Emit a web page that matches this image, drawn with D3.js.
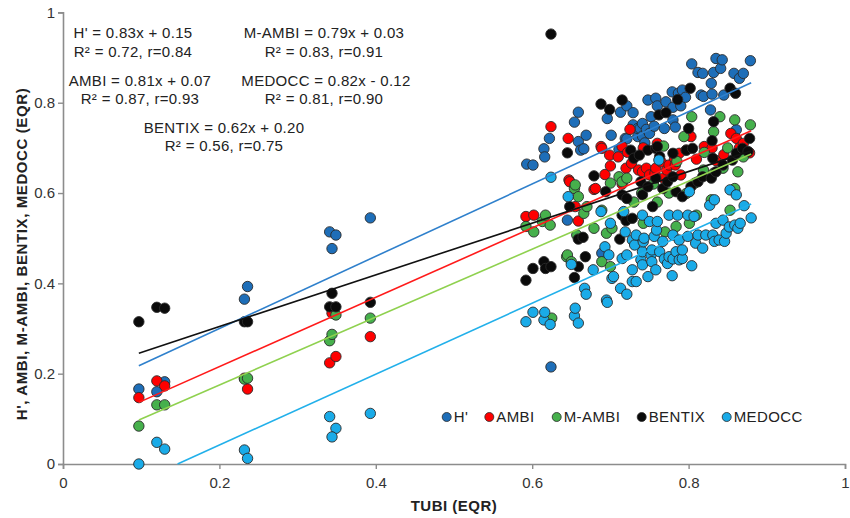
<!DOCTYPE html>
<html><head><meta charset="utf-8">
<script src="https://cdn.jsdelivr.net/npm/d3@7"></script>
<style>
body{margin:0;background:#fff;}
text{font-family:Arial,"Liberation Sans",sans-serif;}
</style></head>
<body><svg id="chart" width="850" height="518"></svg>
<script>
// ---------- DATA ----------
const seriesNames = ["H'", "AMBI", "M-AMBI", "BENTIX", "MEDOCC"];
const xTicks = [0, 0.2, 0.4, 0.6, 0.8, 1];
const yTicks = [0, 0.2, 0.4, 0.6, 0.8, 1];

const hPts = [[0.097,0.166],[0.12,0.160],[0.13,0.182],[0.232,0.365],[0.236,0.393],[0.341,0.514],[0.349,0.507],[0.344,0.477],[0.393,0.545],
[0.593,0.664],[0.601,0.662],[0.615,0.698],[0.616,0.680],[0.622,0.721],[0.624,0.215],[0.645,0.540],[0.654,0.757],[0.659,0.779],[0.659,0.714],[0.662,0.695],[0.666,0.698],[0.669,0.728],[0.689,0.467],[0.696,0.765],[0.701,0.728],[0.711,0.697],[0.713,0.779],[0.719,0.721],[0.721,0.793],[0.721,0.720],[0.729,0.778],[0.729,0.751],[0.735,0.725],[0.735,0.743],[0.738,0.743],[0.741,0.754],[0.741,0.726],[0.744,0.711],[0.746,0.741],[0.748,0.806],[0.750,0.732],[0.752,0.769],[0.756,0.748],[0.758,0.810],[0.760,0.793],[0.769,0.743],[0.771,0.802],[0.779,0.824],[0.780,0.790],[0.780,0.762],[0.783,0.746],[0.787,0.821],[0.790,0.793],[0.792,0.828],[0.796,0.812],[0.804,0.886],[0.812,0.867],[0.816,0.817],[0.818,0.865],[0.819,0.814],[0.828,0.784],[0.829,0.843],[0.830,0.819],[0.832,0.867],[0.835,0.898],[0.841,0.876],[0.843,0.895],[0.845,0.817],[0.858,0.865],[0.861,0.740],[0.865,0.854],[0.870,0.865],[0.879,0.893]];

const ambiPts = [[0.097,0.147],[0.12,0.184],[0.13,0.173],[0.232,0.19],[0.236,0.166],[0.341,0.224],[0.349,0.238],[0.344,0.334],[0.393,0.282],
[0.592,0.548],[0.602,0.551],[0.624,0.747],[0.646,0.721],[0.647,0.629],[0.648,0.625],[0.655,0.570],[0.659,0.538],[0.679,0.608],[0.681,0.610],[0.688,0.703],[0.689,0.699],[0.693,0.641],[0.699,0.684],[0.70,0.66],[0.71,0.68],[0.715,0.703],[0.715,0.62],[0.72,0.655],[0.722,0.69],[0.725,0.741],[0.727,0.666],[0.736,0.651],[0.741,0.647],[0.742,0.70],[0.746,0.655],[0.750,0.640],[0.757,0.644],[0.758,0.655],[0.76,0.71],[0.765,0.669],[0.768,0.633],[0.772,0.651],[0.775,0.662],[0.782,0.677],[0.783,0.662],[0.788,0.688],[0.79,0.64],[0.797,0.695],[0.801,0.728],[0.803,0.725],[0.81,0.675],[0.820,0.703],[0.83,0.70],[0.835,0.672],[0.845,0.685],[0.854,0.732],[0.861,0.721],[0.865,0.70],[0.87,0.71],[0.878,0.689]];

const mambiPts = [[0.097,0.084],[0.12,0.131],[0.13,0.131],[0.232,0.188],[0.236,0.19],[0.341,0.273],[0.344,0.287],[0.349,0.33],[0.393,0.323],
[0.592,0.526],[0.602,0.514],[0.613,0.537],[0.617,0.551],[0.623,0.529],[0.625,0.323],[0.644,0.459],[0.645,0.463],[0.650,0.448],[0.654,0.610],[0.655,0.618],[0.657,0.507],[0.659,0.592],[0.666,0.555],[0.670,0.570],[0.679,0.522],[0.689,0.562],[0.689,0.448],[0.695,0.511],[0.700,0.437],[0.700,0.622],[0.702,0.522],[0.711,0.636],[0.715,0.625],[0.721,0.633],[0.73,0.58],[0.740,0.60],[0.742,0.533],[0.755,0.62],[0.76,0.58],[0.768,0.704],[0.770,0.514],[0.775,0.60],[0.784,0.526],[0.785,0.67],[0.794,0.725],[0.797,0.599],[0.801,0.533],[0.804,0.769],[0.808,0.622],[0.810,0.551],[0.819,0.651],[0.82,0.69],[0.829,0.585],[0.832,0.644],[0.832,0.736],[0.840,0.769],[0.844,0.655],[0.85,0.70],[0.853,0.562],[0.859,0.610],[0.859,0.762],[0.863,0.647],[0.87,0.68],[0.879,0.751]];

const bentixPts = [[0.097,0.315],[0.12,0.347],[0.13,0.345],[0.232,0.315],[0.236,0.315],[0.341,0.348],[0.344,0.378],[0.349,0.348],[0.393,0.358],
[0.592,0.407],[0.601,0.433],[0.615,0.448],[0.617,0.433],[0.624,0.437],[0.624,0.952],[0.645,0.689],[0.648,0.570],[0.654,0.413],[0.659,0.437],[0.659,0.498],[0.665,0.502],[0.668,0.459],[0.679,0.638],[0.688,0.797],[0.694,0.603],[0.699,0.785],[0.712,0.498],[0.715,0.806],[0.715,0.551],[0.715,0.596],[0.720,0.539],[0.721,0.588],[0.728,0.544],[0.726,0.695],[0.730,0.677],[0.737,0.684],[0.739,0.625],[0.741,0.596],[0.748,0.695],[0.748,0.614],[0.754,0.570],[0.758,0.699],[0.758,0.633],[0.760,0.703],[0.762,0.773],[0.763,0.681],[0.767,0.610],[0.771,0.778],[0.773,0.625],[0.780,0.636],[0.780,0.688],[0.784,0.603],[0.786,0.807],[0.792,0.592],[0.797,0.695],[0.800,0.743],[0.802,0.832],[0.803,0.614],[0.805,0.699],[0.812,0.625],[0.818,0.636],[0.829,0.633],[0.830,0.716],[0.831,0.677],[0.832,0.758],[0.835,0.647],[0.844,0.662],[0.853,0.832],[0.856,0.673],[0.860,0.821],[0.861,0.688],[0.869,0.699],[0.876,0.692],[0.878,0.721]];

const medoccPts = [[0.097,0.0],[0.12,0.048],[0.13,0.033],[0.232,0.031],[0.236,0.0125],[0.341,0.105],[0.349,0.079],[0.344,0.06],[0.393,0.112],
[0.592,0.315],[0.601,0.336],[0.615,0.319],[0.616,0.336],[0.623,0.309],[0.624,0.635],[0.646,0.592],[0.650,0.442],[0.654,0.328],[0.655,0.345],[0.659,0.312],[0.667,0.389],[0.669,0.376],[0.678,0.430],[0.688,0.559],[0.693,0.481],[0.695,0.363],[0.696,0.358],[0.698,0.463],[0.700,0.533],[0.702,0.411],[0.704,0.415],[0.713,0.389],[0.715,0.455],[0.717,0.559],[0.719,0.514],[0.721,0.376],[0.721,0.463],[0.728,0.404],[0.728,0.430],[0.728,0.496],[0.731,0.485],[0.733,0.404],[0.733,0.507],[0.739,0.452],[0.741,0.441],[0.741,0.470],[0.741,0.551],[0.742,0.492],[0.743,0.500],[0.748,0.415],[0.750,0.537],[0.752,0.463],[0.753,0.448],[0.753,0.474],[0.756,0.504],[0.758,0.430],[0.759,0.518],[0.760,0.537],[0.762,0.673],[0.763,0.470],[0.767,0.493],[0.769,0.454],[0.773,0.444],[0.775,0.459],[0.775,0.551],[0.779,0.417],[0.780,0.454],[0.780,0.507],[0.784,0.470],[0.786,0.551],[0.788,0.452],[0.788,0.496],[0.792,0.455],[0.792,0.474],[0.799,0.504],[0.799,0.551],[0.801,0.603],[0.804,0.439],[0.807,0.548],[0.809,0.489],[0.812,0.507],[0.818,0.478],[0.822,0.507],[0.827,0.573],[0.831,0.507],[0.833,0.585],[0.833,0.493],[0.835,0.533],[0.839,0.496],[0.844,0.540],[0.846,0.493],[0.848,0.511],[0.852,0.525],[0.853,0.607],[0.859,0.529],[0.861,0.596],[0.863,0.522],[0.866,0.533],[0.871,0.572],[0.880,0.545]];

// fitted trend lines as drawn (slope, intercept) over TUBI range
const trendSlope = [0.80, 0.768, 0.752, 0.572, 0.785];
const trendIntercept = [0.140, 0.062, 0.0245, 0.190, -0.115];
const trendXRange = [0.097, 0.88];

// equation labels
const eqLines = ["H' = 0.83x + 0.15", "R² = 0.72, r=0.84", "AMBI = 0.81x + 0.07", "R² = 0.87, r=0.93",
  "M-AMBI = 0.79x + 0.03", "R² = 0.83, r=0.91", "MEDOCC = 0.82x - 0.12", "R² = 0.81, r=0.90",
  "BENTIX = 0.62x + 0.20", "R² = 0.56, r=0.75"];

// ---------- STYLE / LAYOUT ----------
const markerColors = ["#1E6EB8", "#FF0000", "#46B04C", "#0A0A0A", "#1AABE8"];
const lineColors = ["#2F80CC", "#FF1A1A", "#8FD14F", "#111111", "#22B0EA"];
const eqPos = [[133,33],[133,52],[140,81],[140,99],[324,33],[324,52],[326,81],[324,99],[224,128],[224,146]];
const legendX = [446.7, 489.3, 556.7, 641.7, 726.7];

const svg = d3.select("#chart");
const x = d3.scaleLinear().domain([0,1]).range([63,845]);
const y = d3.scaleLinear().domain([0,1]).range([464,12.4]);

// axes
const axisColor = "#8C8C8C";
const xAxis = svg.append("g").attr("transform","translate(0,464)")
  .call(d3.axisBottom(x).tickValues(xTicks).tickSizeOuter(0).tickSize(5)
    .tickFormat(d => (d===0||d===1) ? String(d) : d3.format(".1f")(d)));
const yAxis = svg.append("g").attr("transform","translate(63,0)")
  .call(d3.axisLeft(y).tickValues(yTicks).tickSizeOuter(0).tickSize(5)
    .tickFormat(d => (d===0||d===1) ? String(d) : d3.format(".1f")(d)));
[xAxis, yAxis].forEach(g => {
  g.select(".domain").attr("stroke", axisColor).attr("stroke-width", 1.6);
  g.selectAll(".tick line").attr("stroke", axisColor).attr("stroke-width", 1.4);
  g.selectAll(".tick text").attr("fill", "#333").style("font-size","15px").style("font-family","Arial, 'Liberation Sans', sans-serif");
});
xAxis.selectAll(".tick text").attr("dy","0.9em").attr("y", 10);
yAxis.selectAll(".tick text").attr("x", -8);

// axis titles
svg.append("text").attr("x", 454).attr("y", 511).attr("text-anchor","middle")
  .style("font-size","15px").style("font-weight","bold").style("letter-spacing","0.5px").attr("fill","#222").text("TUBI (EQR)");
svg.append("text").attr("transform","translate(27,254) rotate(-90)").attr("text-anchor","middle")
  .style("font-size","15px").style("font-weight","bold").style("letter-spacing","0.6px").attr("fill","#222")
  .text("H', AMBI, M-AMBI, BENTIX, MEDOCC (EQR)");

// points
const allSeries = [hPts, ambiPts, mambiPts, bentixPts, medoccPts];
allSeries.forEach((pts, i) => {
  svg.append("g").selectAll("circle").data(pts).join("circle")
    .attr("cx", d => x(d[0])).attr("cy", d => y(d[1])).attr("r", 5.2)
    .attr("fill", markerColors[i]).attr("stroke", "#2a2a2a").attr("stroke-width", 0.9);
});

// trend lines
const line = d3.line().x(d => x(d[0])).y(d => y(d[1]));
trendSlope.forEach((m, i) => {
  const b = trendIntercept[i];
  let x0 = trendXRange[0];
  if (m*x0 + b < 0) x0 = -b/m;
  const x1 = trendXRange[1];
  svg.append("path").datum([[x0, m*x0+b],[x1, m*x1+b]])
    .attr("d", line).attr("fill","none").attr("stroke", lineColors[i]).attr("stroke-width", 1.6);
});

// equation labels
svg.append("g").selectAll("text").data(eqLines).join("text")
  .attr("x", (d,i) => eqPos[i][0]).attr("y", (d,i) => eqPos[i][1]).attr("dy","0.35em")
  .attr("text-anchor","middle").style("font-size","15px").style("letter-spacing","0.3px").attr("fill","#222").text(d => d);

// legend
const lg = svg.append("g");
seriesNames.forEach((n, i) => {
  lg.append("circle").attr("cx", legendX[i]).attr("cy", 417).attr("r", 4.5)
    .attr("fill", markerColors[i]).attr("stroke", "#2a2a2a").attr("stroke-width", 0.8);
  lg.append("text").attr("x", legendX[i] + 7).attr("y", 417).attr("dy","0.36em")
    .style("font-size","15px").style("letter-spacing","0.4px").attr("fill","#222").text(n);
});
</script>
</body></html>
